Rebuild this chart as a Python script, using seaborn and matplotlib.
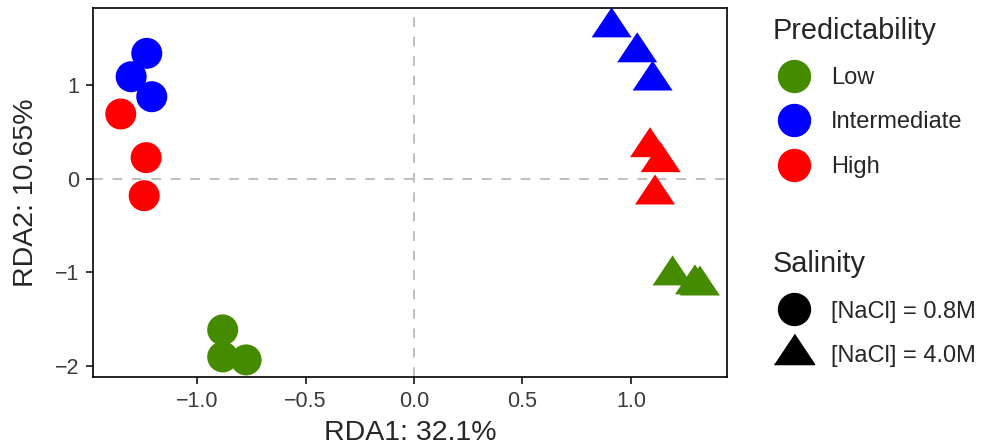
import numpy as np
import pandas as pd
import seaborn as sns
import matplotlib.pyplot as plt
from matplotlib.lines import Line2D

# RDA site scores
rda1 = [-1.232, -1.304, -1.209, -1.352, -1.235, -1.244, -0.882, -0.882, -0.774,
        0.911, 1.029, 1.100, 1.088, 1.137, 1.111, 1.192, 1.295, 1.318]
rda2 = [1.344, 1.094, 0.880, 0.695, 0.228, -0.179, -1.615, -1.904, -1.936,
        1.622, 1.355, 1.053, 0.340, 0.180, -0.166, -1.032, -1.128, -1.140]
predictability = ['Intermediate'] * 3 + ['High'] * 3 + ['Low'] * 3 + \
                 ['Intermediate'] * 3 + ['High'] * 3 + ['Low'] * 3
salinity = ['[NaCl] = 0.8M'] * 9 + ['[NaCl] = 4.0M'] * 9

pred_levels = ['Low', 'Intermediate', 'High']
sal_levels = ['[NaCl] = 0.8M', '[NaCl] = 4.0M']
colors = {'Low': '#458B00', 'Intermediate': '#0000FF', 'High': '#FF0000'}

x_ticks = [-1.0, -0.5, 0.0, 0.5, 1.0]
y_ticks = [-2, -1, 0, 1]

df = pd.DataFrame({'RDA1': rda1, 'RDA2': rda2,
                   'Predictability': predictability, 'Salinity': salinity})

sns.set_style('white')
plt.rcParams['font.family'] = ['Liberation Sans', 'DejaVu Sans']

# R-style filled triangle (centroid at the data point)
tri = [(-1, -0.5), (1, -0.5), (0, 1)]

fig = plt.figure(figsize=(9.87, 4.45), dpi=100)
ax = fig.add_axes([0.0942, 0.153, 0.6424, 0.829])

ax.axhline(0, color='#BEBEBE', lw=1.4, ls=(0, (5, 5)), zorder=1)
ax.axvline(0, color='#BEBEBE', lw=1.4, ls=(0, (5, 5)), zorder=1)

sns.scatterplot(data=df, x='RDA1', y='RDA2', hue='Predictability', style='Salinity',
                size='Salinity', hue_order=pred_levels, style_order=sal_levels,
                palette=colors, markers={sal_levels[0]: 'o', sal_levels[1]: tri},
                sizes={sal_levels[0]: 498, sal_levels[1]: 829},
                linewidth=0, legend=False, ax=ax, zorder=3)

ax.set_xlim(-1.48, 1.443)
ax.set_ylim(-2.118, 1.829)
ax.set_xticks(x_ticks)
ax.set_xticklabels([f'{t:.1f}'.replace('-', '\u2212') for t in x_ticks])
ax.set_yticks(y_ticks)
ax.set_yticklabels([str(t).replace('-', '\u2212') for t in y_ticks])
ax.tick_params(axis='both', length=5, width=1.1, color='black',
               labelsize=15.5, labelcolor='#3A3A3A', pad=5, bottom=True, left=True)
ax.set_xlabel('RDA1: 32.1%', fontsize=20.5, labelpad=6)
ax.set_ylabel('RDA2: 10.65%', fontsize=20.5, labelpad=11)
for sp in ax.spines.values():
    sp.set_color('black')
    sp.set_linewidth(1.2)

# two separate legends like ggplot
h1 = [Line2D([], [], marker='o', ls='', color=colors[p], markersize=23) for p in pred_levels]
leg1 = fig.legend(h1, pred_levels, title='Predictability', loc='upper left',
                  bbox_to_anchor=(0.766, 1.0), frameon=False, fontsize=17,
                  title_fontsize=20.8, alignment='left', labelspacing=0.95,
                  handletextpad=0.62, borderpad=0.2, handlelength=1.85)
h2 = [Line2D([], [], marker='o', ls='', color='black', markersize=23),
      Line2D([], [], marker=tri, ls='', color='black', markersize=29)]
leg2 = fig.legend(h2, sal_levels, title='Salinity', loc='upper left',
                  bbox_to_anchor=(0.766, 0.475), frameon=False, fontsize=17,
                  title_fontsize=20.8, alignment='left', labelspacing=0.95,
                  handletextpad=0.62, borderpad=0.2, handlelength=1.85)

fig.savefig('out.png', dpi=100)
